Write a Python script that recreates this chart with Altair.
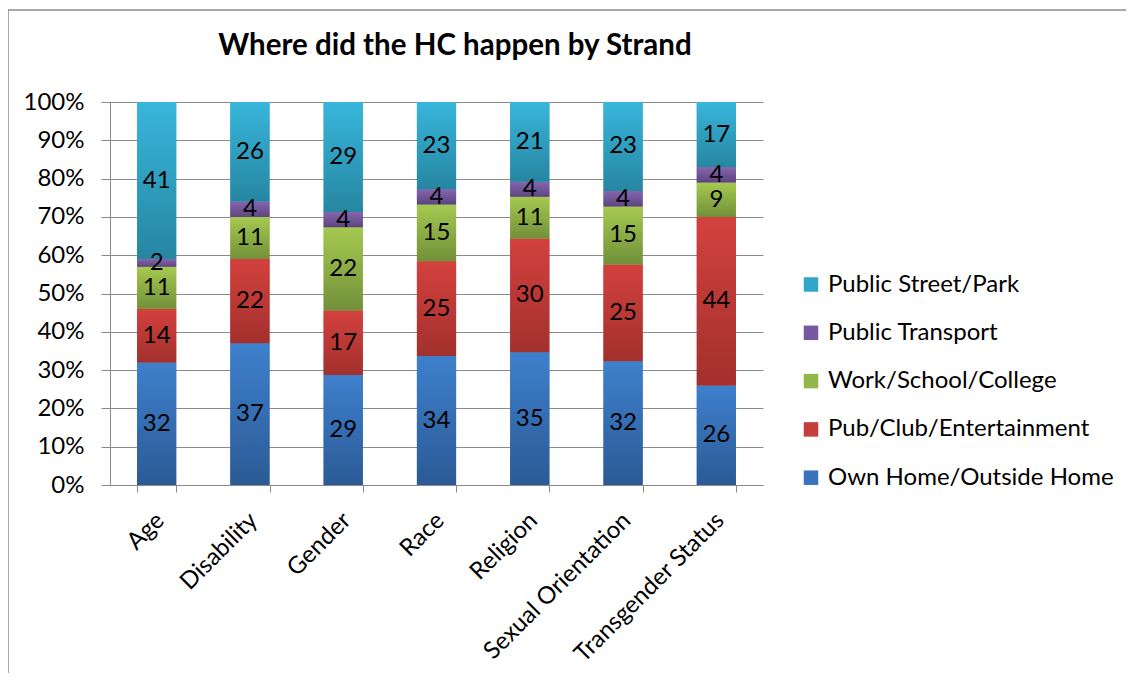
import altair as alt
import pandas as pd

strands = ["Age", "Disability", "Gender", "Race", "Religion",
           "Sexual Orientation", "Transgender Status"]
categories = ["Own Home/Outside Home", "Pub/Club/Entertainment",
              "Work/School/College", "Public Transport", "Public Street/Park"]
own_home = [32, 37, 29, 34, 35, 32, 26]
pub_club = [14, 22, 17, 25, 30, 25, 44]
work_school = [11, 11, 22, 15, 11, 15, 9]
public_transport = [2, 4, 4, 4, 4, 4, 4]
public_street = [41, 26, 29, 23, 21, 23, 17]
series_values = [own_home, pub_club, work_school, public_transport, public_street]
chart_title = ["Where did the HC happen by Strand"]

flat_colors = ["#3a72bd", "#c43e3a", "#93b648", "#7659a0", "#31a6c9"]
grad_top = ["#3e80cd", "#d3413d", "#a6c94f", "#8466ad", "#38b6dc"]
grad_bottom = ["#2b5a95", "#a2302d", "#72903a", "#5d4580", "#2686a1"]

rows = []
for si, (cat, vals) in enumerate(zip(categories, series_values)):
    for s, v in zip(strands, vals):
        rows.append({"strand": s, "category": cat, "value": v, "order": si})
df = pd.DataFrame(rows)

FONT = "Lato"
FS = 24
GRID = "#8a8a8a"

base = alt.Chart(df).transform_stack(
    stack="value", groupby=["strand"], sort=[alt.SortField("order")],
    as_=["y0", "y1"], offset="normalize"
).transform_calculate(ymid="(datum.y0 + datum.y1) / 2")

x_enc = alt.X("strand:N", sort=strands, title=None,
              scale=alt.Scale(paddingInner=0.58, paddingOuter=0.29),
              axis=alt.Axis(labelAngle=-45, labelFontSize=FS, labelFont=FONT,
                            labelColor="black", tickBand="extent", tickSize=7,
                            tickColor=GRID, domainColor=GRID, grid=False,
                            labelPadding=16, labelOffset=-5, labelLimit=400))
y_scale = alt.Scale(domain=[0, 1])
y_axis = alt.Axis(format="%", values=[i / 10 for i in range(11)],
                  labelFontSize=FS, labelFont=FONT, labelColor="black",
                  tickSize=9, tickColor=GRID, domainColor=GRID,
                  gridColor=GRID, labelPadding=17)
y_enc = alt.Y("y0:Q", title=None, scale=y_scale, axis=y_axis)

legend_order = categories[::-1]
legend_colors = flat_colors[::-1]

legend_layer = base.mark_bar().encode(
    x=x_enc, y=y_enc, y2="y1:Q",
    color=alt.Color("category:N",
                    scale=alt.Scale(domain=legend_order, range=legend_colors),
                    legend=alt.Legend(orient="none", legendX=689, legendY=170.5,
                                      title=None, symbolType="square",
                                      symbolSize=210, symbolStrokeWidth=0,
                                      labelFontSize=FS, labelFont=FONT,
                                      labelColor="black", rowPadding=24.3,
                                      labelOffset=5, labelLimit=400))
)

layers = [legend_layer]
for cat, top, bot in zip(categories, grad_top, grad_bottom):
    grad = alt.Gradient(gradient="linear",
                        stops=[alt.GradientStop(offset=0, color=top),
                               alt.GradientStop(offset=1, color=bot)],
                        x1=0, x2=0, y1=0, y2=1)
    layers.append(
        base.transform_filter(alt.datum.category == cat)
        .mark_bar(color=grad)
        .encode(x=x_enc, y=y_enc, y2="y1:Q")
    )

text_layer = base.mark_text(font=FONT, fontSize=FS, color="black").encode(
    x=x_enc, y=alt.Y("ymid:Q", title=None, scale=y_scale, axis=y_axis),
    text="value:Q"
)
layers.append(text_layer)

frame = alt.Chart(pd.DataFrame({"f": [0]})).mark_rect(
    fill=None, stroke="#8c8c8c", strokeWidth=1.5, clip=False
).encode(x=alt.value(-102), x2=alt.value(1040), y=alt.value(-92), y2=alt.value(600))
layers.append(frame)

title_layer = alt.Chart(pd.DataFrame({"t": chart_title})).mark_text(
    font=FONT, fontSize=29.5, fontWeight="bold", color="black",
    align="center", baseline="alphabetic", clip=False
).encode(x=alt.value(345), y=alt.value(-47), text="t:N")
layers.append(title_layer)

chart = alt.layer(*layers).properties(
    width=653, height=383,
    autosize=alt.AutoSizeParams(type="none"),
    padding={"left": 102, "top": 94, "right": 363, "bottom": 188},
).configure_view(stroke=None)

chart.save("out.html", embed_options={"renderer": "svg", "actions": False})
